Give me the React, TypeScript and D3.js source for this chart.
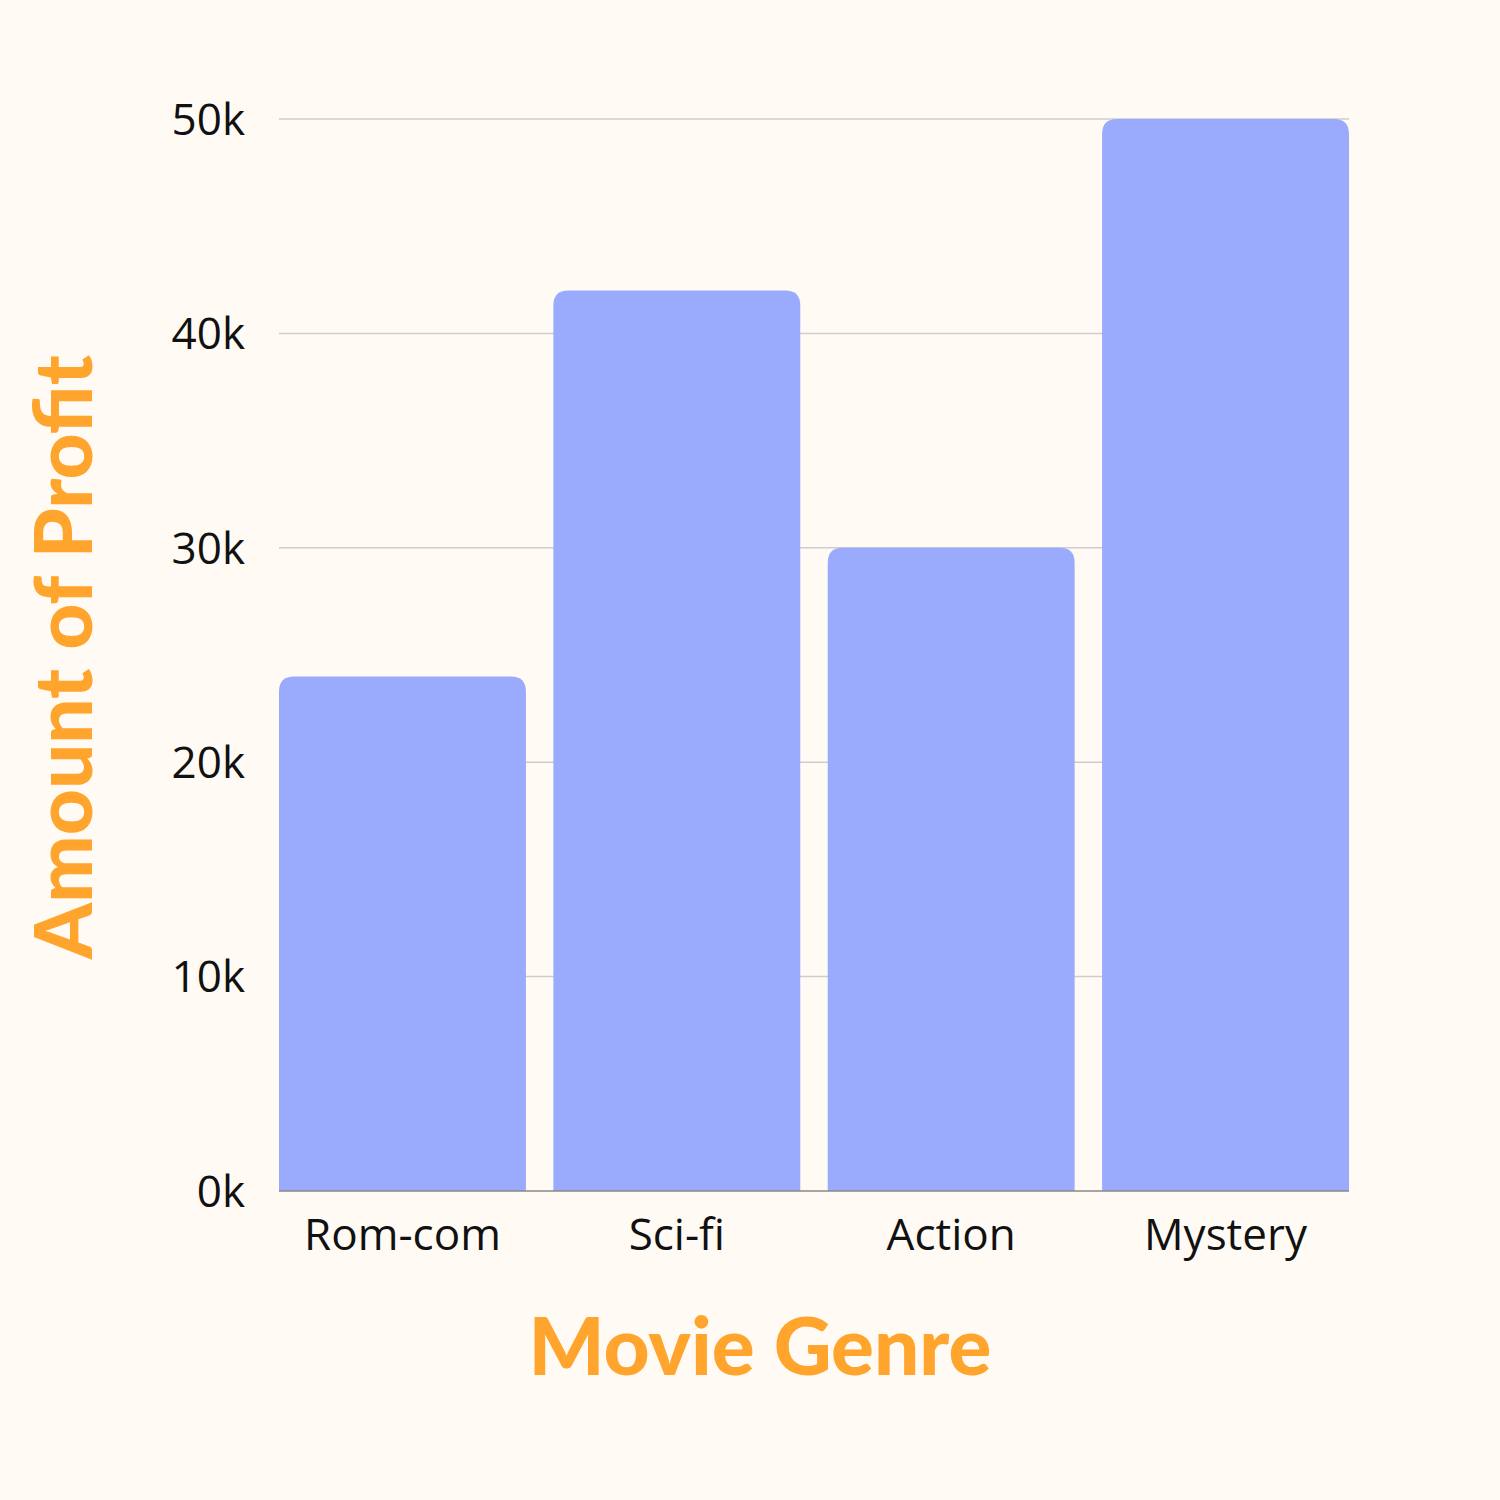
import React, { useEffect } from 'react'
import * as d3 from 'd3'

const genres = ['Rom-com', 'Sci-fi', 'Action', 'Mystery']
const profits = [24000, 42000, 30000, 50000]
const yTicks = [0, 10000, 20000, 30000, 40000, 50000]

const W = 1500
const H = 1500
const left = 279
const right = 1349
const top = 119
const bottom = 1191
const bg = '#fffbf4'

// bar with rounded top corners only
const topRoundedBar = (x: number, y: number, w: number, h: number, r: number) => {
  const rr = Math.min(r, w / 2, h)
  return `M${x},${y + h}V${y + rr}Q${x},${y} ${x + rr},${y}H${x + w - rr}Q${x + w},${y} ${x + w},${y + rr}V${y + h}Z`
}

const App = () => {
  useEffect(() => {
    document.body.style.margin = '0'
    document.body.style.background = bg
  }, [])

  const xScale = d3.scaleBand<string>()
    .domain(genres)
    .range([left, right])
    .paddingInner(0.1)
    .paddingOuter(0)

  const yScale = d3.scaleLinear()
    .domain([0, 50000])
    .range([bottom, top])

  const fmt = (v: number) => `${v / 1000}k`

  return (
    <svg width={W} height={H} style={{ display: 'block', position: 'fixed', top: 0, left: 0 }}>
      <rect width={W} height={H} fill={bg} />

      {/* grid */}
      {yTicks.filter(t => t > 0).map(t => (
        <line key={t} x1={left} x2={right} y1={yScale(t)} y2={yScale(t)}
          stroke="#cfcccb" strokeWidth={1.5} />
      ))}

      {/* bars */}
      {genres.map((g, i) => {
        const x = xScale(g) ?? 0
        const y = yScale(profits[i])
        return (
          <path key={g} d={topRoundedBar(x, y, xScale.bandwidth(), bottom - y, 15)}
            fill="#9aabfe" />
        )
      })}

      {/* baseline */}
      <line x1={left} x2={right} y1={bottom} y2={bottom} stroke="#8a8886" strokeWidth={1.5} />

      {/* y tick labels */}
      {yTicks.map(t => (
        <text key={t} x={245} y={yScale(t)} dy="0.36em" textAnchor="end"
          fontFamily="'Open Sans', sans-serif" fontSize={44} fill="#111">
          {fmt(t)}
        </text>
      ))}

      {/* x tick labels */}
      {genres.map(g => (
        <text key={g} x={(xScale(g) ?? 0) + xScale.bandwidth() / 2} y={1250}
          textAnchor="middle" fontFamily="'Open Sans', sans-serif" fontSize={44} fill="#111">
          {g}
        </text>
      ))}

      {/* axis titles */}
      <text x={760} y={1375} textAnchor="middle" fontFamily="Lato, sans-serif"
        fontWeight={900} fontSize={80} fill="#ffa42c">
        Movie Genre
      </text>
      <text transform="translate(92,657) rotate(-90)" textAnchor="middle"
        fontFamily="Lato, sans-serif" fontWeight={900} fontSize={80} fill="#ffa42c">
        Amount of Profit
      </text>
    </svg>
  )
}

export default App
